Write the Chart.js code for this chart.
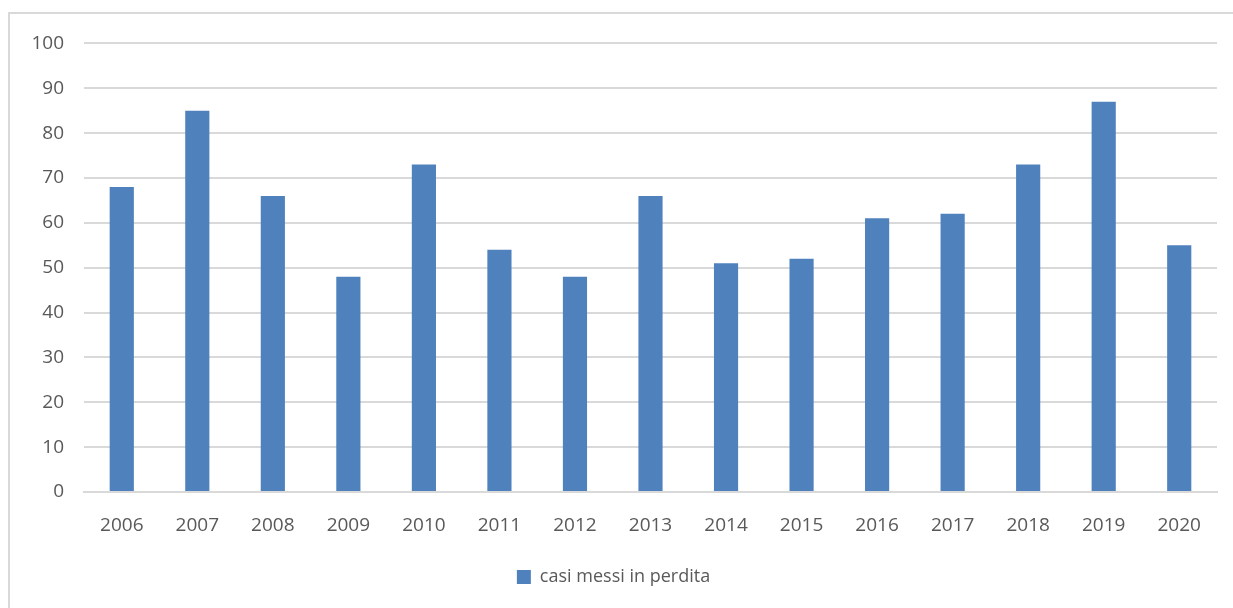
<!DOCTYPE html>
<html>
<head>
<meta charset="utf-8">
<title>casi messi in perdita</title>
<style>
    body { margin: 0; background: #fff; }
    .chart-box {
        position: absolute;
        left: 8px; top: 12px;
        width: 1225px; height: 596px;
        border-left: 2px solid #d9d9d9;
        border-top: 2px solid #d9d9d9;
        box-sizing: border-box;
    }
    .chart-box canvas { display: block; position: relative; top: -2px; }
</style>
</head>
<body>
<div class="chart-box">
    <canvas id="lossChart" width="1223" height="594"></canvas>
</div>
<script src="https://cdn.jsdelivr.net/npm/chart.js"></script>
<script>
    // dati
    const years = ['2006', '2007', '2008', '2009', '2010', '2011', '2012', '2013', '2014', '2015', '2016', '2017', '2018', '2019', '2020'];
    const casiPersi = [68, 85, 66, 48, 73, 54, 48, 66, 51, 52, 61, 62, 73, 87, 55];
    const seriesName = 'casi messi in perdita';

    const FONT = "'Open Sans', 'Liberation Sans', sans-serif";
    const GREY_TEXT = '#595959';

    const ctx = document.getElementById('lossChart').getContext('2d');
    new Chart(ctx, {
        type: 'bar',
        data: {
            labels: years,
            datasets: [{
                label: seriesName,
                data: casiPersi,
                backgroundColor: '#4f81bd',
                categoryPercentage: 1,
                barPercentage: 0.32
            }]
        },
        options: {
            responsive: false,
            animation: false,
            layout: { padding: { left: 0, right: 16, top: 14, bottom: 10 } },
            plugins: {
                legend: {
                    position: 'bottom',
                    labels: {
                        boxWidth: 14,
                        boxHeight: 14,
                        color: GREY_TEXT,
                        font: { family: FONT, size: 18 },
                        padding: 10
                    }
                },
                tooltip: { enabled: false }
            },
            scales: {
                x: {
                    grid: { display: false },
                    border: { color: '#d9d9d9', width: 2 },
                    ticks: { color: GREY_TEXT, font: { family: FONT, size: 19 }, padding: 14, maxRotation: 0 },
                    afterFit: s => { s.height = 66; }
                },
                y: {
                    min: 0,
                    max: 100,
                    ticks: { stepSize: 10, color: GREY_TEXT, font: { family: FONT, size: 19 }, padding: 20 },
                    grid: { color: '#d9d9d9', lineWidth: 2, drawTicks: false },
                    border: { display: false },
                    afterFit: s => { s.width = 74; }
                }
            }
        }
    });
</script>
</body>
</html>
